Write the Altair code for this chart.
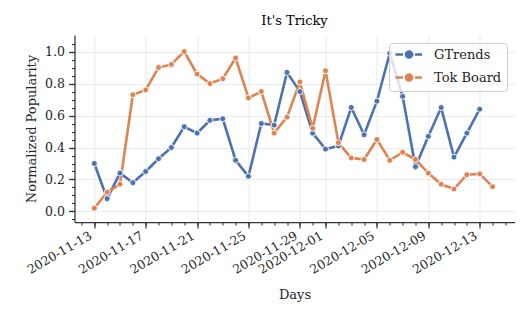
import altair as alt
import pandas as pd

# ---- data ----
gtrends_start = "2020-11-13"
gtrends = [0.30, 0.08, 0.24, 0.18, 0.25, 0.33, 0.40, 0.53, 0.49, 0.57, 0.58,
           0.32, 0.22, 0.55, 0.54, 0.87, 0.75, 0.49, 0.39, 0.41, 0.65, 0.48,
           0.69, 0.99, 0.72, 0.28, 0.47, 0.65, 0.34, 0.49, 0.64]
tok_start = "2020-11-13"
tok_board = [0.02, 0.12, 0.17, 0.73, 0.76, 0.90, 0.92, 1.00, 0.86, 0.80, 0.83,
             0.96, 0.71, 0.75, 0.49, 0.59, 0.81, 0.52, 0.88, 0.43, 0.335, 0.325,
             0.45, 0.32, 0.37, 0.325, 0.24, 0.17, 0.14, 0.23, 0.235, 0.155]
series_names = ["GTrends", "Tok Board"]
series_colors = ["#4C72B0", "#DD8452"]
major_x = ["2020-11-13", "2020-11-17", "2020-11-21", "2020-11-25", "2020-11-29",
           "2020-12-01", "2020-12-05", "2020-12-09", "2020-12-13"]
major_y = [0.0, 0.2, 0.4, 0.6, 0.8, 1.0]

g_dates = pd.date_range(gtrends_start, periods=len(gtrends), freq="D")
t_dates = pd.date_range(tok_start, periods=len(tok_board), freq="D")
df = pd.concat([
    pd.DataFrame({"Days": g_dates.strftime("%Y-%m-%d"), "value": gtrends, "series": "GTrends"}),
    pd.DataFrame({"Days": t_dates.strftime("%Y-%m-%d"), "value": tok_board, "series": "Tok Board"}),
])


def dt(s, hours=0):
    y, m, d = map(int, s.split("-"))
    return alt.DateTime(year=y, month=m, date=d, hours=hours, utc=True)


minor_x = pd.date_range("2020-11-12", "2020-12-15", freq="D").strftime("%Y-%m-%d").tolist()
minor_y = [round(-0.05 + 0.05 * i, 2) for i in range(23)]

xscale = alt.Scale(type="utc", domain=[dt("2020-11-11", 11), dt("2020-12-15", 17)])
yscale = alt.Scale(domain=[-0.066, 1.104], nice=False, zero=False)
cscale = alt.Scale(domain=series_names, range=series_colors)

FONT = "DejaVu Serif"
AX = "#333333"

minor = alt.Chart(df).mark_line(opacity=0).encode(
    x=alt.X("Days:T", scale=xscale,
            axis=alt.Axis(orient="bottom", values=[dt(s) for s in minor_x], labels=False,
                          domain=False, grid=False, tickSize=3, tickColor=AX, tickWidth=1.1, title=None)),
    y=alt.Y("value:Q", scale=yscale,
            axis=alt.Axis(orient="left", values=minor_y, labels=False, domain=False, grid=False,
                          tickSize=3, tickColor=AX, tickWidth=1.1, title=None)),
    detail="series:N",
)

# dashed line with a dot, drawn to the right of a 10px symbol box
legend_path = ("M-1,0L0.5,0M0.85,0L2.6,0M2.9,0L4.3,0"
               "M2.3,0A0.6,0.6,0,1,1,1.1,0A0.6,0.6,0,1,1,2.3,0Z")

xaxis = alt.Axis(orient="bottom", values=[dt(s) for s in major_x], format="%Y-%m-%d",
                 labelAngle=-30, labelAlign="right", labelBaseline="top", labelOverlap=False,
                 labelFlush=False, labelOffset=-7, tickSize=6, labelPadding=1,
                 title="Days", titlePadding=13,
                 grid=True, gridColor="#ebebeb", gridWidth=1)
yaxis = alt.Axis(orient="left", values=major_y, format=".1f", tickSize=6, labelPadding=4,
                 title="Normalized Popularity", titlePadding=6, grid=True,
                 gridColor="#ebebeb", gridWidth=1)

line = alt.Chart(df).mark_line(strokeWidth=2.6).encode(
    x=alt.X("Days:T", scale=xscale, axis=xaxis),
    y=alt.Y("value:Q", scale=yscale, axis=yaxis),
    color=alt.Color("series:N", scale=cscale, title=None,
                    legend=alt.Legend(orient="none", legendX=314.5, legendY=8,
                                      symbolType=legend_path, symbolSize=100,
                                      symbolStrokeWidth=2.5, labelFontSize=13,
                                      labelOffset=27, rowPadding=6, padding=5,
                                      fillColor="rgba(255,255,255,0.8)",
                                      strokeColor="#cccccc", cornerRadius=3)),
)
points = alt.Chart(df).mark_point(filled=True, size=36, opacity=1, stroke="white",
                                  strokeWidth=0.9).encode(
    x=alt.X("Days:T", scale=xscale, axis=None),
    y=alt.Y("value:Q", scale=yscale, axis=None),
    color=alt.Color("series:N", scale=cscale, legend=None),
)

chart = alt.layer(minor, line, points).resolve_axis(
    x="independent", y="independent"
).properties(
    width=440, height=187,
    title=alt.Title("It's Tricky", fontSize=13, fontWeight="normal", font=FONT, offset=7),
    autosize=alt.AutoSizeParams(type="none"),
    padding={"left": 66.5, "top": 27, "right": 8, "bottom": 85},
).configure(font=FONT).configure_axis(
    labelFont=FONT, titleFont=FONT, labelFontSize=12.5, titleFontSize=13,
    titleFontWeight="normal", labelColor="#262626", titleColor="#262626",
    domainColor=AX, domainWidth=1.25, tickColor=AX, tickWidth=1.25,
).configure_legend(labelFont=FONT, labelColor="#262626").configure_view(stroke=None)

chart.save("out.html", embed_options={"renderer": "svg", "actions": False})
